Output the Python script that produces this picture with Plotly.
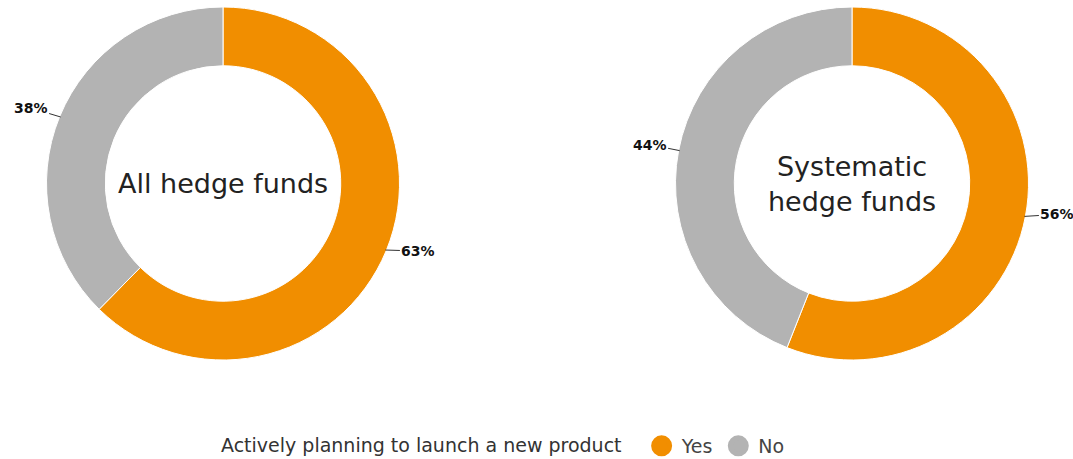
import math
import plotly.graph_objects as go

# Survey results: share of funds actively planning to launch a new product
categories = ["Yes", "No"]
all_funds = [63, 38]
systematic_funds = [56, 44]
group_titles = ["All hedge funds", "Systematic<br>hedge funds"]
legend_title = "Actively planning to launch a new product"

colors = {"Yes": "#F18E00", "No": "#B3B3B3"}
FONT = "DejaVu Sans"

W, H = 1073, 459
M_T, M_B = 7, 99
PLOT_H = H - M_T - M_B
R_PX = PLOT_H / 2
centers_px = [223, 852]

fig = go.Figure()

annotations = []
for series, cx_px, title in zip([all_funds, systematic_funds], centers_px, group_titles):
    dom_x = [(cx_px - R_PX) / W, (cx_px + R_PX) / W]
    fig.add_trace(go.Pie(
        labels=categories,
        values=series,
        hole=0.667,
        sort=False,
        direction="clockwise",
        rotation=0,
        textinfo="none",
        hoverinfo="label+percent",
        marker=dict(colors=[colors[c] for c in categories],
                    line=dict(color="white", width=1)),
        domain=dict(x=dom_x, y=[0, 1]),
        showlegend=False,
    ))
    # centre caption
    annotations.append(dict(
        x=cx_px / W, y=0.5, xref="paper", yref="paper",
        text=title, showarrow=False,
        font=dict(family=FONT, size=27, color="#222222"),
        xanchor="center", yanchor="middle",
    ))
    # outside percentage labels with short leader lines
    total = sum(series)
    start = 0.0
    for val in series:
        mid = (start + val / 2) / total * 2 * math.pi
        start += val
        sx, sy = math.sin(mid), math.cos(mid)
        px = (cx_px + (R_PX - 1) * sx) / W
        py = 0.5 + (R_PX - 1) * sy / PLOT_H
        annotations.append(dict(
            x=px, y=py, xref="paper", yref="paper",
            text=f"<b>{val}%</b>", showarrow=True,
            arrowhead=0, arrowwidth=1, arrowcolor="#333333",
            standoff=0, startstandoff=0,
            ax=33 if sx > 0 else -30, ay=-round(4 + 12 * sy),
            font=dict(family=FONT, size=14, color="#111111"),
        ))

# legend entries drawn with circular markers
for c in categories:
    fig.add_trace(go.Scatter(
        x=[None], y=[None], mode="markers", name=c,
        marker=dict(symbol="circle", size=16, color=colors[c],
                    line=dict(color=colors[c], width=5)),
        hoverinfo="skip",
    ))

fig.update_layout(
    width=W, height=H,
    margin=dict(l=0, r=0, t=M_T, b=M_B, autoexpand=False),
    paper_bgcolor="white", plot_bgcolor="white",
    xaxis=dict(visible=False), yaxis=dict(visible=False),
    annotations=annotations,
    showlegend=True,
    legend=dict(
        orientation="h", x=219 / W, xanchor="left",
        xref="container", yref="container",
        y=1 - 446 / H, yanchor="middle",
        title=dict(text=legend_title + "  ", side="left",
                   font=dict(family=FONT, size=19, color="#333333")),
        font=dict(family=FONT, size=19, color="#444444"),
        itemwidth=30,
    ),
    font=dict(family=FONT),
)

fig.write_html("out.html")
